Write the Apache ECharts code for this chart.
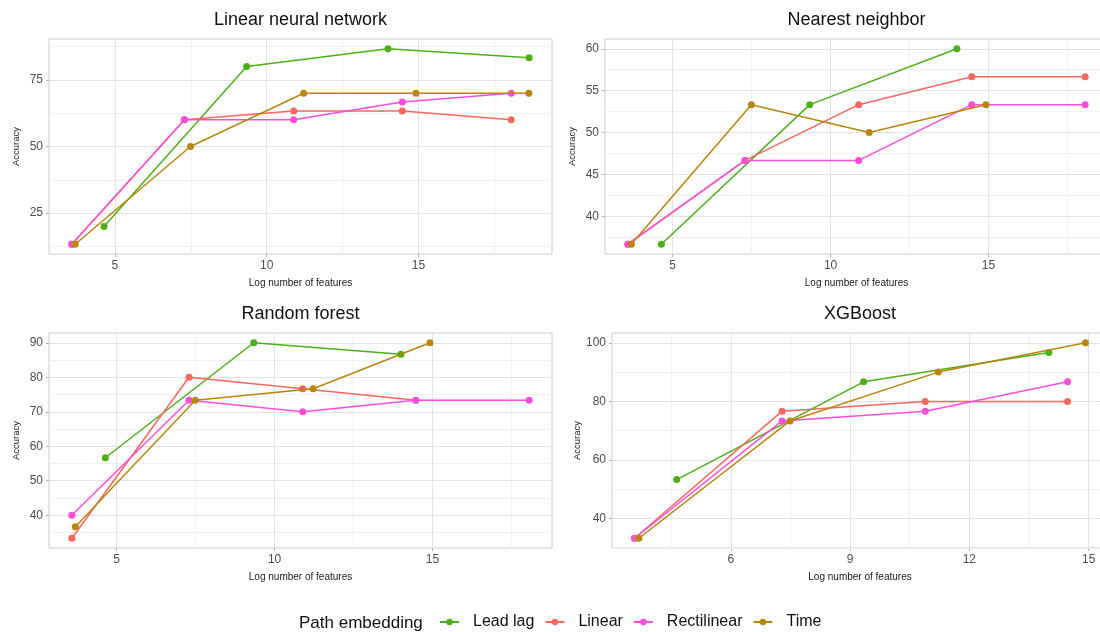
<!DOCTYPE html>
<html>
<head>
<meta charset="utf-8">
<script src="https://cdn.jsdelivr.net/npm/echarts@6/dist/echarts.min.js"></script>
<style>
  html, body { margin: 0; padding: 0; overflow: hidden; background: #ffffff; }
  #chart { width: 1112px; height: 632px; }
</style>
</head>
<body>
<div id="chart"></div>
<script>
// Path embeddings and their colours
const embeddings = ['Lead lag', 'Linear', 'Rectilinear', 'Time'];
const embeddingColors = ['#4DAF1A', '#F7675F', '#FF4DD8', '#B8860B'];

// Log number of features at each truncation level, per embedding
const featLeadLag = [4.64, 9.34, 14.0, 18.65];
const featLinear = [3.58, 7.29, 10.89, 14.47, 18.06];
const featRectilinear = [3.58, 7.29, 10.89, 14.47, 18.06];
const featTime = [3.69, 7.49, 11.22, 14.92, 18.64];

// Model (panel) titles
const models = ['Linear neural network', 'Nearest neighbor', 'Random forest', 'XGBoost'];

// Accuracy (%) — Linear neural network
const lnnLeadLag = [20, 80, 86.67, 83.33];
const lnnLinear = [13.33, 60, 63.33, 63.33, 60];
const lnnRectilinear = [13.33, 60, 60, 66.67, 70];
const lnnTime = [13.33, 50, 70, 70, 70];

// Accuracy (%) — Nearest neighbor
const nnLeadLag = [36.67, 53.33, 60];
const nnLinear = [36.67, 46.67, 53.33, 56.67, 56.67];
const nnRectilinear = [36.67, 46.67, 46.67, 53.33, 53.33];
const nnTime = [36.67, 53.33, 50, 53.33];

// Accuracy (%) — Random forest
const rfLeadLag = [56.67, 90, 86.67];
const rfLinear = [33.33, 80, 76.67, 73.33];
const rfRectilinear = [40, 73.33, 70, 73.33, 73.33];
const rfTime = [36.67, 73.33, 76.67, 90];

// Accuracy (%) — XGBoost
const xgbLeadLag = [53.33, 86.67, 96.67];
const xgbLinear = [33.33, 76.67, 80, 80];
const xgbRectilinear = [33.33, 73.33, 76.67, 86.67];
const xgbTime = [33.33, 73.33, 90, 100];

// Tick labels (major) and minor grid positions
const xTicksMain = [5, 10, 15];
const xMinorMain = [2.5, 7.5, 12.5, 17.5];
const xTicksXgb = [6, 9, 12, 15];
const xMinorXgb = [4.5, 7.5, 10.5, 13.5];
const yTicksLnn = [25, 50, 75];
const yMinorLnn = [12.5, 37.5, 62.5, 87.5];
const yTicksNn = [40, 45, 50, 55, 60];
const yMinorNn = [37.5, 42.5, 47.5, 52.5, 57.5];
const yTicksRf = [40, 50, 60, 70, 80, 90];
const yMinorRf = [35, 45, 55, 65, 75, 85];
const yTicksXgb = [40, 60, 80, 100];
const yMinorXgb = [30, 50, 70, 90];

// ---- assembly ----
const featByEmbedding = [featLeadLag, featLinear, featRectilinear, featTime];
const accByPanel = [
  [lnnLeadLag, lnnLinear, lnnRectilinear, lnnTime],
  [nnLeadLag, nnLinear, nnRectilinear, nnTime],
  [rfLeadLag, rfLinear, rfRectilinear, rfTime],
  [xgbLeadLag, xgbLinear, xgbRectilinear, xgbTime]
];
const xTicksByPanel = [xTicksMain, xTicksMain, xTicksMain, xTicksXgb];
const xMinorByPanel = [xMinorMain, xMinorMain, xMinorMain, xMinorXgb];
const yTicksByPanel = [yTicksLnn, yTicksNn, yTicksRf, yTicksXgb];
const yMinorByPanel = [yMinorLnn, yMinorNn, yMinorRf, yMinorXgb];

// Panel boxes in pixels
const panelBoxes = [
  { left: 49, top: 39, width: 503, height: 215 },
  { left: 605, top: 39, width: 503, height: 215 },
  { left: 49, top: 333, width: 503, height: 215 },
  { left: 612, top: 333, width: 496, height: 215 }
];

const FONT = '"Liberation Sans", Arial, Helvetica, sans-serif';
const GRID_MAJOR = '#e3e3e3';
const GRID_MINOR = '#f1f1f1';

// ggplot-style 5% expansion of the data range
function expandedRange(values) {
  const lo = Math.min.apply(null, values);
  const hi = Math.max.apply(null, values);
  const pad = (hi - lo) * 0.05;
  return [lo - pad, hi + pad];
}

const grids = [], xAxes = [], yAxes = [], series = [], graphics = [];

panelBoxes.forEach(function (box, p) {
  grids.push({
    left: box.left, top: box.top, width: box.width, height: box.height,
    show: true, borderColor: '#cccccc', borderWidth: 1, backgroundColor: '#ffffff',
    containLabel: false, outerBoundsMode: 'none'
  });

  const accs = accByPanel[p];
  let xs = [], ys = [];
  accs.forEach(function (acc, e) {
    xs = xs.concat(featByEmbedding[e].slice(0, acc.length));
    ys = ys.concat(acc);
  });
  const xr = expandedRange(xs);
  const yr = expandedRange(ys);

  xAxes.push({
    type: 'value', gridIndex: p, min: xr[0], max: xr[1],
    name: 'Log number of features', nameLocation: 'middle', nameGap: 24,
    nameTextStyle: { fontFamily: FONT, fontSize: 10, color: '#1a1a1a' },
    axisLine: { show: false },
    axisTick: { show: true, length: 3, customValues: xTicksByPanel[p], lineStyle: { color: '#b3b3b3' } },
    axisLabel: { customValues: xTicksByPanel[p], margin: 6, fontFamily: FONT, fontSize: 12, color: '#4d4d4d' },
    splitLine: { show: false }
  });
  yAxes.push({
    type: 'value', gridIndex: p, min: yr[0], max: yr[1],
    name: 'Accuracy', nameLocation: 'middle', nameGap: 28, nameRotate: 90,
    nameTextStyle: { fontFamily: FONT, fontSize: 9.5, color: '#1a1a1a' },
    axisLine: { show: false },
    axisTick: { show: true, length: 3, customValues: yTicksByPanel[p], lineStyle: { color: '#b3b3b3' } },
    axisLabel: { customValues: yTicksByPanel[p], margin: 6, fontFamily: FONT, fontSize: 12, color: '#4d4d4d' },
    splitLine: { show: false }
  });

  // panel gridlines, drawn on the panel's own scales beneath the data
  const lines = [];
  xMinorByPanel[p].forEach(function (v) { lines.push({ xAxis: v, lineStyle: { color: GRID_MINOR, width: 1 } }); });
  yMinorByPanel[p].forEach(function (v) { lines.push({ yAxis: v, lineStyle: { color: GRID_MINOR, width: 1 } }); });
  xTicksByPanel[p].forEach(function (v) { lines.push({ xAxis: v, lineStyle: { color: GRID_MAJOR, width: 1 } }); });
  yTicksByPanel[p].forEach(function (v) { lines.push({ yAxis: v, lineStyle: { color: GRID_MAJOR, width: 1 } }); });
  series.push({
    type: 'line', name: 'gridlines-' + p, xAxisIndex: p, yAxisIndex: p,
    data: [], silent: true, z: 1, animation: false,
    markLine: {
      z: 1, zlevel: 0,
      silent: true, symbol: ['none', 'none'], label: { show: false },
      animation: false, emphasis: { disabled: true },
      lineStyle: { type: 'solid' }, data: lines
    }
  });

  accs.forEach(function (acc, e) {
    const feats = featByEmbedding[e];
    series.push({
      type: 'line', name: embeddings[e], xAxisIndex: p, yAxisIndex: p,
      data: acc.map(function (a, i) { return [feats[i], a]; }),
      symbol: 'circle', symbolSize: 7, z: 3 + e,
      color: embeddingColors[e],
      lineStyle: { width: 1.5, color: embeddingColors[e] },
      itemStyle: { color: embeddingColors[e] },
      emphasis: { disabled: true },
      animation: false
    });
  });

  graphics.push({
    type: 'text', x: box.left + box.width / 2, y: box.top - 19,
    style: {
      text: models[p], fill: '#111111', font: '18px ' + FONT,
      textAlign: 'center', textVerticalAlign: 'middle'
    }
  });
});

graphics.push({
  type: 'text', x: 299, y: 623,
  style: {
    text: 'Path embedding', fill: '#111111', font: '17px ' + FONT,
    textAlign: 'left', textVerticalAlign: 'middle'
  }
});

const chart = echarts.init(document.getElementById('chart'), null, { renderer: 'canvas' });
chart.setOption({
  backgroundColor: '#ffffff',
  animation: false,
  grid: grids,
  xAxis: xAxes,
  yAxis: yAxes,
  series: series,
  graphic: graphics,
  legend: {
    data: embeddings, left: 439, top: 614, padding: 0,
    itemWidth: 19, itemHeight: 8, itemGap: 10,
    selectedMode: false,
    textStyle: { fontFamily: FONT, fontSize: 16, color: '#111111', padding: [0, 0, 0, 9] }
  }
});
</script>
</body>
</html>
